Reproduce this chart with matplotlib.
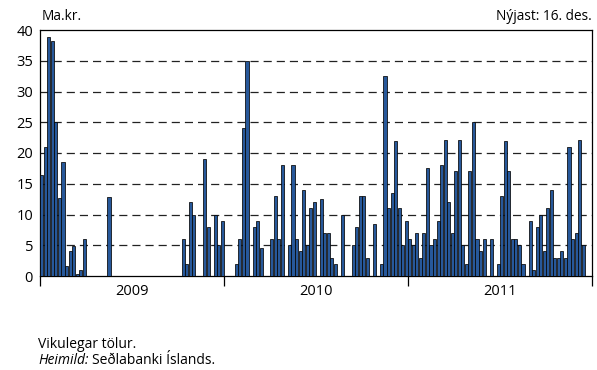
import numpy as np
import matplotlib
matplotlib.use("Agg")
import matplotlib.pyplot as plt

# weekly values, Ma.kr. (52 weeks per year, 2011 ends 16 Dec)
vals_2009 = [16.5, 21, 38.8, 38.2, 25, 12.7, 18.5, 1.7, 4, 4.9, 0.4, 1, 6,
             0, 0, 0, 0, 0, 0, 12.9, 0, 0, 0, 0, 0, 0, 0, 0, 0, 0, 0, 0, 0,
             0, 0, 0, 0, 0, 0, 0, 6, 2, 12.1, 10, 0, 0, 19, 8, 0, 10, 5, 9]
vals_2010 = [0, 0, 0, 2, 6, 24, 35, 0, 8, 9, 4.5, 0, 0, 6, 13, 6, 18, 0,
             5, 18, 6, 4, 14, 5, 11, 12, 0, 12.5, 7, 7, 3, 2, 0, 10, 0, 0,
             5, 8, 13, 13, 3, 0, 8.5, 0, 2, 32.6, 11, 13.5, 22, 11, 5, 9]
vals_2011 = [6, 5, 7, 3, 7, 17.6, 5, 6, 9, 18.1, 22.1, 12.1, 7, 17, 22.1, 5,
             2, 17, 25, 6, 4, 6, 0, 6, 0, 2, 13, 22, 17, 6, 6, 5, 2, 0, 9, 1,
             8, 10, 4, 11, 14, 3, 3, 4, 3, 21, 6, 7, 22.1, 5]
years = ["2009", "2010", "2011"]
weeks_per_year = 52

values = vals_2009 + vals_2010 + vals_2011
x = np.arange(len(values))

plt.rcParams['font.family'] = ['Open Sans', 'DejaVu Sans']

fig = plt.figure(figsize=(5.97, 3.70), dpi=100)
ax = fig.add_axes([40 / 597, 94 / 370, 552 / 597, 246 / 370])

ax.bar(x, values, width=0.88, color='#27589a', edgecolor='#050505',
       linewidth=0.55, zorder=3)

ax.set_xlim(-0.5, weeks_per_year * len(years) - 0.5)
ax.set_ylim(0, 40)
ax.set_yticks(range(0, 41, 5))
for y in range(5, 40, 5):
    ax.axhline(y, color='#222222', linewidth=0.9, linestyle=(0, (6.5, 4)),
               zorder=1)

bounds = [i * weeks_per_year - 0.5 for i in range(len(years) + 1)]
ax.set_xticks(bounds)
ax.set_xticklabels([])
ax.set_xticks([b + weeks_per_year / 2 for b in bounds[:-1]], minor=True)
ax.set_xticklabels(years, minor=True)
ax.tick_params(axis='x', which='major', direction='out', length=7,
               width=0.9, color='black')
ax.tick_params(axis='x', which='minor', length=0, pad=6, labelsize=10.5)
ax.tick_params(axis='y', length=0, pad=5, labelsize=10.5)

for s in ax.spines.values():
    s.set_linewidth(0.9)
    s.set_color('black')

fig.text(42 / 597, 1 - 16 / 370, "Ma.kr.", fontsize=9.8, va='center',
         ha='left')
fig.text(592 / 597, 1 - 16 / 370, "Nýjast: 16. des.", fontsize=9.8,
         va='center', ha='right')

fig.text(38 / 597, 1 - 344 / 370, "Vikulegar tölur.", fontsize=10,
         va='center', ha='left')
t = fig.text(38 / 597, 1 - 361 / 370, "Heimild:", fontsize=10,
             style='italic', va='center', ha='left')
fig.canvas.draw()
bb = t.get_window_extent(fig.canvas.get_renderer())
fig.text((bb.x1 + 3) / fig.bbox.width, 1 - 361 / 370, "Seðlabanki Íslands.",
         fontsize=10, va='center', ha='left')

fig.savefig("out.png", dpi=100)
